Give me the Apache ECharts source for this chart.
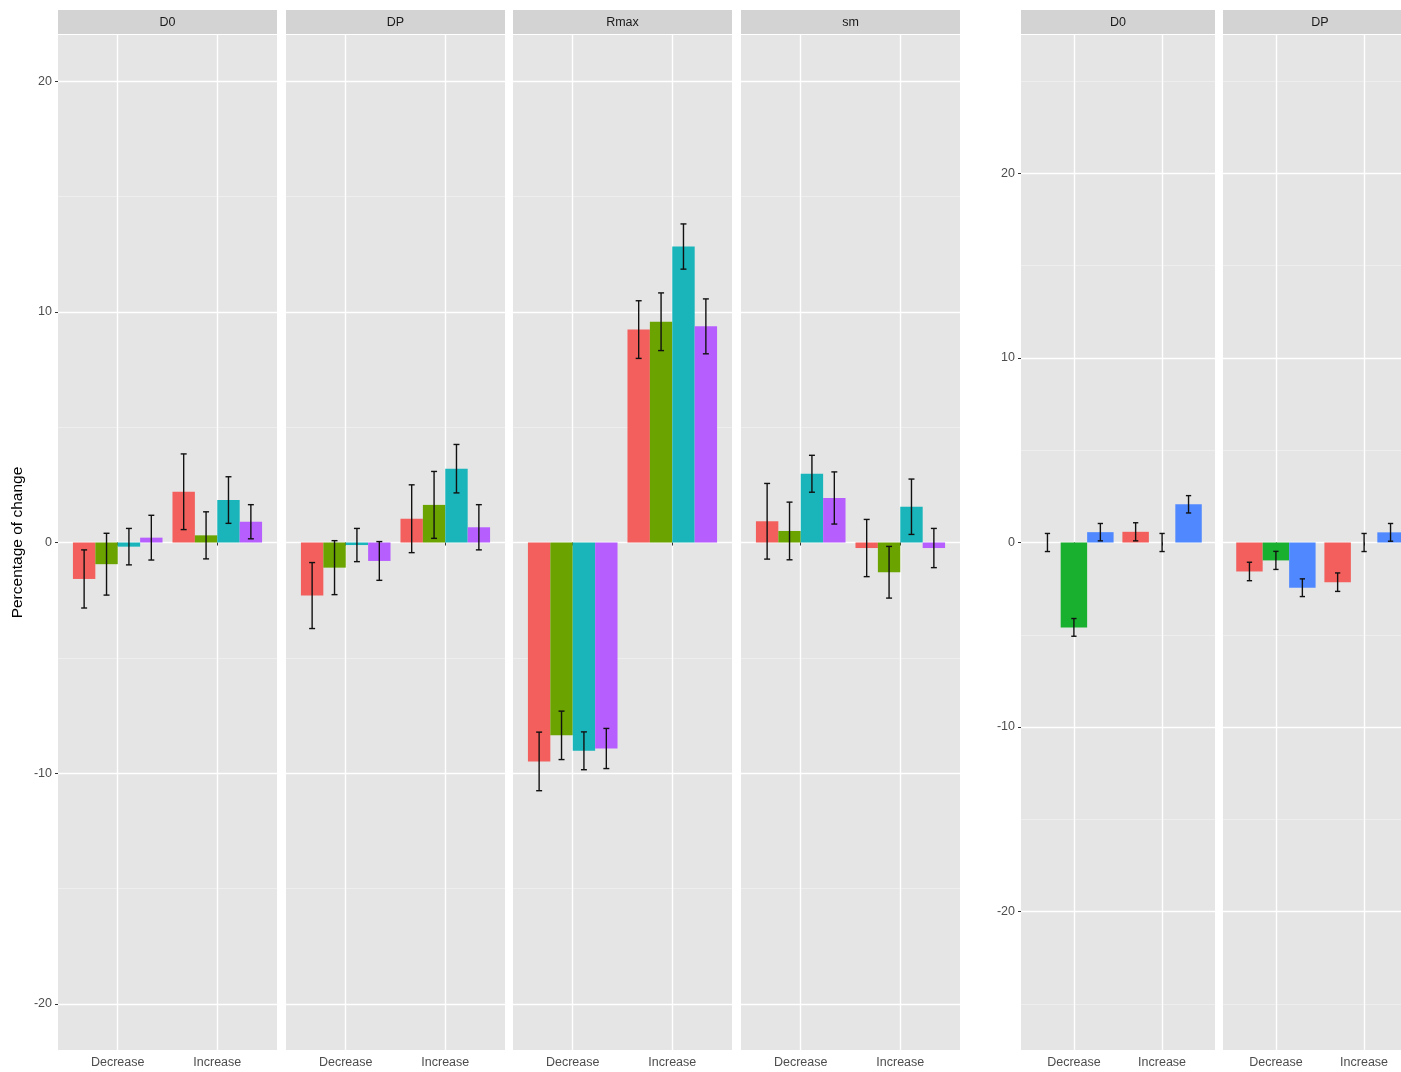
<!DOCTYPE html>
<html>
<head>
<meta charset="utf-8">
<title>Percentage of change</title>
<script src="https://cdn.jsdelivr.net/npm/echarts@6/dist/echarts.min.js"></script>
<style>
  html, body { margin: 0; padding: 0; background: #fff; }
  #main { width: 1401px; height: 1072px; }
</style>
</head>
<body>
<div id="main"></div>
<script>
// categories on the x axis of every panel
var categories = ['Decrease', 'Increase'];

// left figure: 4 groups per category (order: Decrease g1..g4, Increase g1..g4)
var leftPanels = ['D0', 'DP', 'Rmax', 'sm'];
var leftColors = ['#F25F5C', '#6BA300', '#19B5BA', '#B75EFF'];
var leftD0Mean = [-1.58, -0.94, -0.18, 0.21, 2.20, 0.31, 1.84, 0.90];
var leftD0Err = [1.26, 1.34, 0.79, 0.97, 1.64, 1.02, 1.01, 0.74];
var leftDPMean = [-2.30, -1.09, -0.11, -0.80, 1.03, 1.63, 3.20, 0.66];
var leftDPErr = [1.43, 1.17, 0.72, 0.84, 1.47, 1.45, 1.05, 0.98];
var leftRmaxMean = [-9.49, -8.36, -9.03, -8.93, 9.23, 9.57, 12.83, 9.37];
var leftRmaxErr = [1.27, 1.05, 0.82, 0.87, 1.25, 1.25, 0.98, 1.19];
var leftSmMean = [0.92, 0.50, 2.98, 1.93, -0.24, -1.29, 1.55, -0.24];
var leftSmErr = [1.64, 1.25, 0.80, 1.13, 1.24, 1.12, 1.20, 0.85];

// right figure: 3 groups per category (order: Decrease g1..g3, Increase g1..g3)
var rightPanels = ['D0', 'DP'];
var rightColors = ['#F25F5C', '#1AB02F', '#5089FF'];
var rightD0Mean = [0, -4.60, 0.56, 0.58, 0, 2.07];
var rightD0Err = [0.49, 0.48, 0.47, 0.49, 0.49, 0.47];
var rightDPMean = [-1.57, -0.97, -2.45, -2.15, 0, 0.55];
var rightDPErr = [0.50, 0.49, 0.48, 0.50, 0.49, 0.48];

// tick labels
var leftTicks = [-20, -10, 0, 10, 20];
var leftMinor = [-15, -5, 5, 15];
var rightTicks = [-20, -10, 0, 10, 20];
var rightMinor = [-25, -15, -5, 5, 15, 25];

var font = '"Liberation Sans", Arial, Helvetica, sans-serif';
var myChart = echarts.init(document.getElementById('main'));

var grids = [], xAxes = [], yAxes = [], series = [], graphics = [];

function addPanel(title, left, width, range, ticks, minor, colors, means, errs, first, yName) {
	var gi = grids.length;
	var n = colors.length;
	grids.push({ left: left, top: 35, width: width, height: 1015, show: true,
		outerBoundsMode: 'none', containLabel: false,
		backgroundColor: '#E5E5E5', borderWidth: 0 });
	xAxes.push({
		type: 'value', gridIndex: gi, min: 0.4, max: 2.6,
		axisLine: { show: false },
		axisTick: { show: true, length: 3, customValues: [1, 2], lineStyle: { color: '#333' } },
		axisLabel: { customValues: [1, 2], color: '#4D4D4D', fontSize: 12.5, fontFamily: font, margin: 6,
			formatter: function (v) { return categories[Math.round(v) - 1]; } },
		splitLine: { show: true, lineStyle: { color: '#fff', width: 1.4 } }
	});
	yAxes.push({
		type: 'value', gridIndex: gi, min: -range, max: range, position: 'left',
		name: yName || '', nameLocation: 'middle', nameGap: 32, nameRotate: 90,
		nameTextStyle: { color: '#000', fontSize: 15.5, fontFamily: font },
		axisLine: { show: false },
		axisTick: { show: first, length: 3, customValues: ticks, lineStyle: { color: '#333' } },
		axisLabel: { show: first, customValues: ticks, color: '#4D4D4D', fontSize: 12.5, fontFamily: font, margin: 6 },
		splitLine: { show: true, lineStyle: { color: '#fff', width: 1.4 } }
	});
	yAxes.push({
		type: 'value', gridIndex: gi, min: -range, max: range, position: 'left',
		axisLine: { show: false },
		axisTick: { show: false, customValues: minor },
		axisLabel: { show: false, customValues: minor },
		splitLine: { show: true, lineStyle: { color: '#F2F2F2', width: 0.7 } }
	});
	var yi = yAxes.length - 2;

	var data = [];
	for (var k = 0; k < means.length; k++) {
		data.push([Math.floor(k / n) + 1, k % n, means[k], errs[k]]);
	}
	var bw = 0.9 / n;
	function xCenter(api) {
		return api.value(0) - 0.45 + bw * (api.value(1) + 0.5);
	}
	series.push({
		type: 'custom', xAxisIndex: gi, yAxisIndex: yi, silent: true,
		renderItem: function (params, api) {
			var xc = xCenter(api), v = api.value(2);
			var p0 = api.coord([xc - bw / 2, v]);
			var p1 = api.coord([xc + bw / 2, 0]);
			return { type: 'rect',
				shape: { x: p0[0], y: Math.min(p0[1], p1[1]), width: p1[0] - p0[0], height: Math.abs(p1[1] - p0[1]) },
				style: { fill: colors[api.value(1)] } };
		},
		data: data, z: 2
	});
	series.push({
		type: 'custom', xAxisIndex: gi, yAxisIndex: yi, silent: true,
		renderItem: function (params, api) {
			var xc = xCenter(api), v = api.value(2), e = api.value(3);
			var top = api.coord([xc, v + e]), bot = api.coord([xc, v - e]);
			var wl = api.coord([xc - 0.03, 0])[0], wr = api.coord([xc + 0.03, 0])[0];
			var st = { stroke: '#111', lineWidth: 1.4 };
			return { type: 'group', children: [
				{ type: 'line', shape: { x1: top[0], y1: top[1], x2: bot[0], y2: bot[1] }, style: st },
				{ type: 'line', shape: { x1: wl, y1: top[1], x2: wr, y2: top[1] }, style: st },
				{ type: 'line', shape: { x1: wl, y1: bot[1], x2: wr, y2: bot[1] }, style: st }
			] };
		},
		data: data, z: 3
	});
	// facet strip
	graphics.push({ type: 'rect', left: left, top: 10, shape: { width: width, height: 24 },
		style: { fill: '#D3D3D3' }, silent: true });
	graphics.push({ type: 'text', x: left + width / 2, y: 23,
		style: { text: title, fill: '#1A1A1A', font: '12.5px ' + font, align: 'center', verticalAlign: 'middle' }, silent: true });
}

addPanel(leftPanels[0], 58, 219, 22, leftTicks, leftMinor, leftColors, leftD0Mean, leftD0Err, true, 'Percentage of change');
addPanel(leftPanels[1], 286, 219, 22, leftTicks, leftMinor, leftColors, leftDPMean, leftDPErr, false);
addPanel(leftPanels[2], 513, 219, 22, leftTicks, leftMinor, leftColors, leftRmaxMean, leftRmaxErr, false);
addPanel(leftPanels[3], 741, 219, 22, leftTicks, leftMinor, leftColors, leftSmMean, leftSmErr, false);
addPanel(rightPanels[0], 1021, 194, 27.5, rightTicks, rightMinor, rightColors, rightD0Mean, rightD0Err, true);
addPanel(rightPanels[1], 1223, 194, 27.5, rightTicks, rightMinor, rightColors, rightDPMean, rightDPErr, false);

var option = {
	animation: false,
	backgroundColor: '#fff',
	grid: grids,
	xAxis: xAxes,
	yAxis: yAxes,
	series: series,
	graphic: graphics
};
myChart.setOption(option);
</script>
</body>
</html>
